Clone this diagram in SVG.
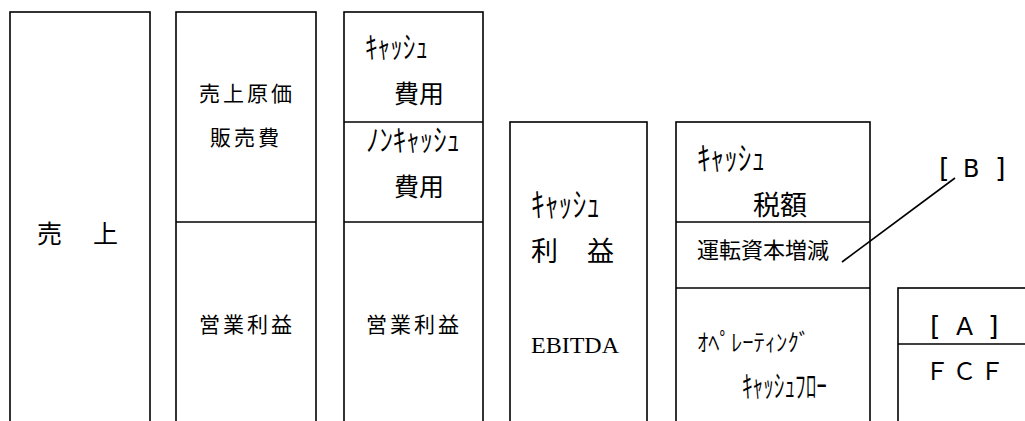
<svg xmlns="http://www.w3.org/2000/svg" width="1025" height="421" viewBox="0 0 1025 421">
<style>
.b{fill:#fff;stroke:#000;stroke-width:1.6}
.d{stroke:#000;stroke-width:1.6}
.t{font-family:"Noto Sans CJK JP","Noto Sans",sans-serif;fill:#000}
.k{font-family:"Noto Sans CJK JP","Noto Sans",sans-serif;fill:#000;font-weight:350}
.s{font-family:"Liberation Serif",serif;fill:#000}
.l{font-family:"DejaVu Sans",sans-serif;fill:#000}
</style>
<rect width="1025" height="421" fill="#fff"/>
<g id="uriage">
<rect class="b" x="10" y="12" width="140" height="420"/>
<text class="t" x="37" y="243" font-size="25" letter-spacing="3">売　上</text>
</g>
<g id="box2">
<rect class="b" x="176" y="12" width="140" height="420"/>
<line class="d" x1="176" y1="222" x2="316" y2="222"/>
<text class="t" x="199" y="101" font-size="21" letter-spacing="3">売上原価</text>
<text class="t" x="210" y="145" font-size="21" letter-spacing="3">販売費</text>
<text class="t" x="199" y="332" font-size="21" letter-spacing="3">営業利益</text>
</g>
<g id="box3">
<rect class="b" x="344" y="12" width="139" height="420"/>
<line class="d" x1="344" y1="122" x2="483" y2="122"/>
<line class="d" x1="344" y1="222" x2="483" y2="222"/>
<text class="k" x="365" y="58" font-size="31" textLength="63" lengthAdjust="spacingAndGlyphs">ｷｬｯｼｭ</text>
<text class="t" x="394" y="103" font-size="25">費用</text>
<text class="k" x="366" y="151" font-size="31" textLength="94" lengthAdjust="spacingAndGlyphs">ﾉﾝｷｬｯｼｭ</text>
<text class="t" x="394" y="196" font-size="25">費用</text>
<text class="t" x="366" y="332" font-size="21" letter-spacing="3">営業利益</text>
</g>
<g id="ebitda">
<rect class="b" x="510" y="122" width="137" height="310"/>
<text class="k" x="531" y="217" font-size="34" textLength="69" lengthAdjust="spacingAndGlyphs">ｷｬｯｼｭ</text>
<text class="t" x="531" y="261" font-size="27" letter-spacing="1">利　益</text>
<text class="s" x="531" y="353" font-size="24">EBITDA</text>
</g>
<g id="box5">
<rect class="b" x="676" y="122" width="194" height="310"/>
<line class="d" x1="676" y1="222" x2="870" y2="222"/>
<line class="d" x1="676" y1="288" x2="870" y2="288"/>
<text class="k" x="697" y="170" font-size="33" textLength="68" lengthAdjust="spacingAndGlyphs">ｷｬｯｼｭ</text>
<text class="t" x="753" y="215" font-size="27">税額</text>
<text class="t" x="697" y="258" font-size="22">運転資本増減</text>
<text class="k" x="697" y="351" font-size="24" textLength="113" lengthAdjust="spacingAndGlyphs">ｵﾍﾟﾚｰﾃｨﾝｸﾞ</text>
<text class="k" x="742" y="397" font-size="31" textLength="85" lengthAdjust="spacingAndGlyphs">ｷｬｯｼｭﾌﾛｰ</text>
</g>
<g id="fcf">
<rect class="b" x="898" y="288" width="140" height="150"/>
<line class="d" x1="898" y1="344" x2="1030" y2="344"/>
<text class="l" y="335"><tspan x="930" font-size="27">[</tspan><tspan x="956" font-size="25">A</tspan><tspan x="988" font-size="27">]</tspan></text>
<text class="t" x="925" y="380" font-size="24" letter-spacing="3.5">ＦＣＦ</text>
</g>
<g id="labelB">
<text class="l" y="177"><tspan x="939" font-size="27">[</tspan><tspan x="963" font-size="24">B</tspan><tspan x="995" font-size="27">]</tspan></text>
</g>
<g id="connectors">
<line class="d" x1="842" y1="262" x2="955" y2="178"/>
</g>
</svg>
